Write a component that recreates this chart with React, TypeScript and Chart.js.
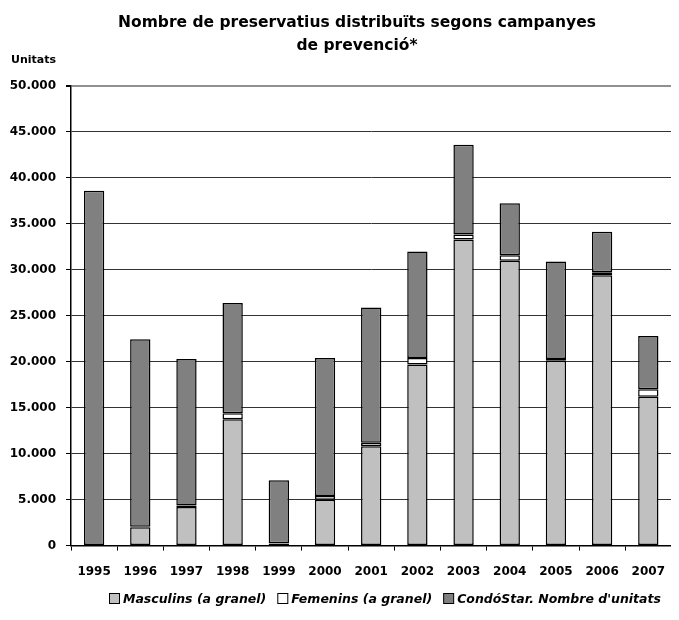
import React, { useEffect, useRef } from "react";
import { Chart, registerables } from "chart.js";

Chart.register(...registerables);

const YEARS = ["1995", "1996", "1997", "1998", "1999", "2000", "2001", "2002", "2003", "2004", "2005", "2006", "2007"];
const MASCULINS = [0, 2000, 4200, 13750, 200, 5000, 10800, 19700, 33300, 31000, 20100, 29400, 16200];
const FEMENINS = [0, 50, 150, 650, 50, 400, 400, 700, 550, 600, 200, 350, 800];
const CONDOSTAR = [38600, 20400, 15950, 12000, 6850, 15000, 14700, 11600, 9750, 5650, 10600, 4400, 5800];
const SERIES_LABELS = ["Masculins (a granel)", "Femenins (a granel)", "CondóStar. Nombre d'unitats"];
const SERIES_COLORS = ["#C0C0C0", "#FFFFFF", "#808080"];
const TITLE_LINES = ["Nombre de preservatius distribuïts segons campanyes", "de prevenció*"];
const Y_UNIT = "Unitats";
const Y_MIN = 0;
const Y_MAX = 50000;
const Y_STEP = 5000;

const FONT = '"DejaVu Sans", "Liberation Sans", Arial, sans-serif';

const fmt = (v: number) => String(v).replace(/\B(?=(\d{3})+(?!\d))/g, ".");

const overlayPlugin = {
  id: "overlay",
  afterDraw(chart: any) {
    const ctx = chart.ctx as CanvasRenderingContext2D;
    const area = chart.chartArea;
    ctx.save();
    ctx.fillStyle = "#000";
    ctx.textBaseline = "alphabetic";
    ctx.textAlign = "center";
    ctx.font = `bold 15.5px ${FONT}`;
    ctx.fillText(TITLE_LINES[0], 349, 19);
    ctx.fillText(TITLE_LINES[1], 349, 42);

    ctx.textAlign = "left";
    ctx.font = `bold 11px ${FONT}`;
    ctx.fillText(Y_UNIT, 3, 55);

    ctx.font = `italic bold 12.5px ${FONT}`;
    const items = chart.data.datasets.map((ds: any) => ({
      label: ds.label as string,
      color: ds.backgroundColor as string,
      w: ctx.measureText(ds.label).width,
    }));
    const box = 10;
    const gapText = 4;
    const gapItems = 11;
    const total =
      items.reduce((s: number, it: any) => s + box + gapText + it.w, 0) + gapItems * (items.length - 1);
    let x = Math.round((area.left + area.right) / 2 + 14 - total / 2);
    const baseline = 595;
    items.forEach((it: any) => {
      ctx.fillStyle = it.color;
      ctx.fillRect(x + 0.5, baseline - 10 + 0.5, box, box);
      ctx.strokeStyle = "#000";
      ctx.lineWidth = 1;
      ctx.strokeRect(x + 0.5, baseline - 10 + 0.5, box, box);
      ctx.fillStyle = "#000";
      ctx.fillText(it.label, x + box + gapText, baseline);
      x += box + gapText + it.w + gapItems;
    });
    ctx.restore();
  },
};

export default function App() {
  const canvasRef = useRef<HTMLCanvasElement | null>(null);

  useEffect(() => {
    if (!canvasRef.current) return;
    const seriesData = [MASCULINS, FEMENINS, CONDOSTAR];
    const chart = new Chart(canvasRef.current, {
      type: "bar",
      data: {
        labels: YEARS,
        datasets: seriesData.map((d, i) => ({
          label: SERIES_LABELS[i],
          data: d,
          backgroundColor: SERIES_COLORS[i],
          borderColor: "#000",
          borderWidth: 1.5,
          borderSkipped: false,
          categoryPercentage: 1,
          barPercentage: 0.44,
        })),
      },
      options: {
        animation: false,
        responsive: true,
        maintainAspectRatio: false,
        layout: { padding: { top: 78, left: 0, right: 0, bottom: 19 } },
        plugins: {
          legend: { display: false },
          title: { display: false },
          tooltip: { enabled: false },
        },
        scales: {
          x: {
            stacked: true,
            offset: true,
            grid: {
              offset: true,
              drawOnChartArea: false,
              drawTicks: true,
              tickLength: 5,
              tickColor: "#000",
            },
            border: { color: "#000", width: 1.5 },
            ticks: {
              color: "#000",
              padding: 14,
              font: { family: FONT, size: 12, weight: "bold" },
              maxRotation: 0,
              autoSkip: false,
            },
          },
          y: {
            stacked: true,
            min: Y_MIN,
            max: Y_MAX,
            afterFit: (scale: any) => {
              scale.width = 63;
            },
            grid: {
              color: (c: any) => (c.tick && c.tick.value === Y_MAX ? "#909090" : "#333"),
              lineWidth: (c: any) => (c.tick && c.tick.value === Y_MAX ? 2 : 1),
              tickLength: 5,
              tickColor: "#000",
            },
            border: { color: "#000", width: 1.5 },
            ticks: {
              stepSize: Y_STEP,
              color: "#000",
              padding: 10,
              font: { family: FONT, size: 12, weight: "bold" },
              callback: (v: any) => fmt(Number(v)),
            },
          },
        },
      },
      plugins: [overlayPlugin],
    });
    return () => chart.destroy();
  }, []);

  return (
    <div style={{ width: 671, height: 604, position: "relative" }}>
      <canvas ref={canvasRef} />
    </div>
  );
}
